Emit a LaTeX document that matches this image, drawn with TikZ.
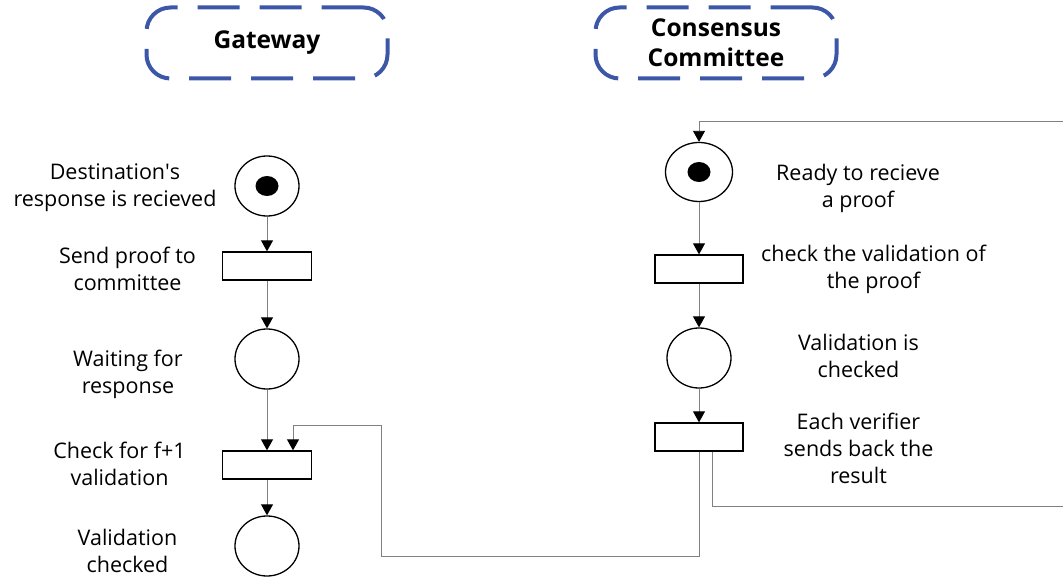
\documentclass[tikz,border=0pt]{standalone}
\usepackage{fontspec}
\setmainfont{Open Sans}
\usetikzlibrary{arrows.meta,shapes.geometric}
\definecolor{frameblue}{RGB}{61,87,168}
\definecolor{wire}{RGB}{128,128,128}
\tikzset{
  place/.style={ellipse, draw=black, line width=1.3pt, minimum width=64pt, minimum height=60pt, inner sep=0pt},
  token/.style={ellipse, fill=black, minimum width=23pt, minimum height=20pt, inner sep=0pt},
  trans/.style={rectangle, draw=black, line width=1.3pt, minimum width=89pt, minimum height=28pt, inner sep=0pt},
  flow/.style={draw=wire, line width=0.9pt, -{Triangle[width=12pt,length=11pt,color=black]}},
  wireline/.style={draw=wire, line width=0.9pt},
  txt/.style={font=\fontsize{21.5}{27}\selectfont, align=center, inner sep=0pt},
  lane/.style={draw=frameblue, line width=4pt, rounded corners=24pt, dash pattern=on 42pt off 20pt,
    minimum width=241pt, minimum height=71pt, font=\bfseries\fontsize{24.5}{30}\selectfont, align=center}
}
\begin{document}
\begin{tikzpicture}[x=1pt, y=-1pt]
  \useasboundingbox (0,0) rectangle (1063,577);
  \clip (0,0) rectangle (1063,577);

  % swimlane headers
  \node[lane] (gw) at (267,43) {\raisebox{-3pt}{Gateway}};
  \node[lane] (cc) at (716,43) {Consensus\\Committee};

  % gateway net
  \node[place] (lp1) at (267,186) {};
  \node[token] (lk1) at (lp1.center) {};
  \node[trans] (lt1) at (267,266) {};
  \node[place] (lp2) at (267,359) {};
  \node[trans] (lt2) at (267,465) {};
  \node[place] (lp3) at (267,546) {};

  % committee net
  \node[place, minimum width=67pt, minimum height=59pt] (rp1) at (699,172) {};
  \node[token] (rk1) at (rp1.center) {};
  \node[trans, minimum width=88pt] (rt1) at (699,269) {};
  \node[place] (rp2) at (699,358) {};
  \node[trans, minimum width=88pt] (rt2) at (699,437) {};

  % labels
  \node[txt] (l1) at (115,188) {Destination\textquotesingle s\\response is recieved};
  \node[txt] (l2) at (127.5,269) {Send proof to\\committee};
  \node[txt] (l3) at (128,374) {Waiting for\\response};
  \node[txt] (l4) at (119.5,464) {Check for f+1\\validation};
  \node[txt] (l5) at (127.5,551) {Validation\\checked};
  \node[txt] (r1) at (858,188) {Ready to recieve\\a proof};
  \node[txt] (r2) at (873.5,269) {check the validation of\\the proof};
  \node[txt] (r3) at (858.5,356) {Validation is\\checked};
  \node[txt] (r4) at (858.5,448) {Each verifier\\sends back the\\result};

  % gateway arcs
  \draw[flow] (lp1) -- (lt1);
  \draw[flow] (lt1) -- (lp2);
  \draw[flow] (lp2) -- (lt2);
  \draw[flow] (lt2) -- (lp3);

  % committee arcs
  \coordinate (loopin) at (1063,121);
  \coordinate (loopout) at (1063,506);
  \coordinate (retlow) at (381,556);
  \coordinate (rethigh) at (381,425);
  \draw[flow] (loopin) -| (rp1);
  \draw[flow] (rp1) -- (rt1);
  \draw[flow] (rt1) -- (rp2);
  \draw[flow] (rp2) -- (rt2);

  % results returned to the gateway, and the loop back
  \draw[flow] (rt2.south) |- (retlow) -- (rethigh) -| ([xshift=26pt]lt2.north);
  \draw[wireline] ([xshift=13pt]rt2.south) |- (loopout);
\end{tikzpicture}
\end{document}
